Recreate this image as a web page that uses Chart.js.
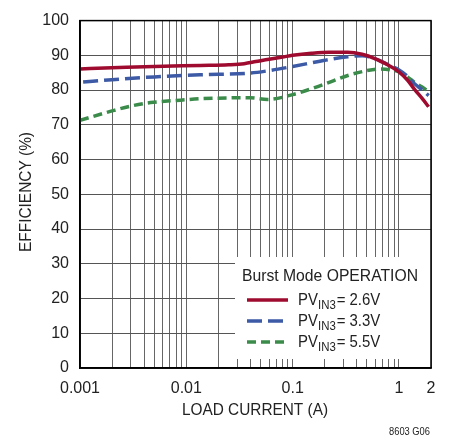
<!DOCTYPE html>
<html>
<head>
<meta charset="utf-8">
<script src="https://cdn.jsdelivr.net/npm/chart.js@4"></script>
<style>
  html, body { margin: 0; padding: 0; background: #fff; }
</style>
</head>
<body>
<canvas id="chart" width="449" height="438"></canvas>
<script>
// data (load current in A, efficiency in %)
const seriesLabels = ['2.6V', '3.3V', '5.5V'];
const legendTitle = 'Burst Mode OPERATION';
const xTitle = 'LOAD CURRENT (A)';
const yTitle = 'EFFICIENCY (%)';
const figCode = '8603 G06';

const current26 = [0.001, 0.002, 0.005, 0.0135, 0.025, 0.035, 0.045, 0.06, 0.08, 0.1, 0.15, 0.22, 0.33, 0.45, 0.6, 0.78, 0.9, 1, 1.2, 1.4, 1.65, 1.9];
const eff26 = [86.1, 86.4, 86.8, 87.1, 87.3, 87.6, 88.2, 88.9, 89.5, 90.0, 90.6, 90.9, 90.9, 90.3, 89.0, 87.3, 86.2, 85.2, 82.9, 80.2, 77.6, 75.2];

const current33 = [0.00107, 0.002, 0.005, 0.0135, 0.04, 0.06, 0.1, 0.195, 0.33, 0.45, 0.6, 0.78, 1, 1.2, 1.4, 1.65, 1.9];
const eff33 = [82.3, 83.0, 83.8, 84.4, 84.9, 85.6, 86.8, 88.5, 89.6, 89.9, 89.0, 87.4, 85.8, 84.0, 81.8, 80.1, 78.4];

const current55 = [0.001, 0.002, 0.003, 0.0046, 0.0088, 0.0135, 0.04, 0.058, 0.1, 0.195, 0.33, 0.5, 0.67, 0.85, 1, 1.2, 1.4, 1.65, 1.9];
const eff55 = [71.3, 74.0, 75.4, 76.4, 77.1, 77.5, 77.8, 77.3, 78.7, 81.6, 84.2, 85.6, 86.1, 85.8, 85.2, 83.8, 82.2, 80.9, 79.6];

// log axis grid positions and which ones get a label
const xGrid = [0.001, 0.002, 0.003, 0.004, 0.005, 0.006, 0.007, 0.008, 0.009,
               0.01, 0.02, 0.03, 0.04, 0.05, 0.06, 0.07, 0.08, 0.09,
               0.1, 0.2, 0.3, 0.4, 0.5, 0.6, 0.7, 0.8, 0.9, 1, 2];
const xLabels = [0.001, 0.01, 0.1, 1, 2];

const colors = ['#9e0b2f', '#3d5aa6', '#3b8b4b'];
const dashes = [[], [15, 6], [9, 5]];

const FONT = "'Liberation Sans', Arial, sans-serif";
Chart.defaults.font.family = FONT;
Chart.defaults.color = '#222';

const pts = (xs, ys) => xs.map((x, i) => ({ x: x, y: ys[i] }));

// the original uses a condensed face, squeeze text to the width it has there
function narrowText(ctx, text, x, y, width, align) {
    const s = width / ctx.measureText(text).width;
    ctx.save();
    ctx.translate(x, y);
    ctx.scale(s, 1);
    ctx.textAlign = align;
    ctx.fillText(text, 0, 0);
    ctx.restore();
}

const textBits = {
    id: 'textBits',
    afterDatasetsDraw(chart) {
        const ctx = chart.ctx;
        const a = chart.chartArea;
        ctx.save();

        // legend box, inside the plot at lower right
        const bx = 235, by = 257;
        ctx.fillStyle = '#fff';
        ctx.fillRect(bx, by, a.right - bx, 102);

        ctx.fillStyle = '#222';
        ctx.textBaseline = 'middle';
        ctx.font = '17px ' + FONT;
        narrowText(ctx, legendTitle, 242, 276, 176, 'left');

        chart.data.datasets.forEach((ds, i) => {
            const y = 300 + i * 21;
            ctx.strokeStyle = ds.borderColor;
            ctx.lineWidth = 3.5;
            ctx.setLineDash(ds.borderDash || []);
            ctx.beginPath();
            ctx.moveTo(247, y);
            ctx.lineTo(288, y);
            ctx.stroke();
            ctx.setLineDash([]);

            ctx.save();
            ctx.translate(298, y);
            ctx.scale(0.88, 1);
            let x = 0;
            ctx.font = '17px ' + FONT;
            ctx.fillText('PV', x, 0);
            x += ctx.measureText('PV').width;
            ctx.font = '13px ' + FONT;
            ctx.fillText('IN3', x, 5);
            x += ctx.measureText('IN3').width + 1;
            ctx.font = '17px ' + FONT;
            ctx.fillText('= ' + seriesLabels[i], x, 0);
            ctx.restore();
        });

        // frame
        ctx.strokeStyle = '#000';
        ctx.lineWidth = 1.5;
        ctx.strokeRect(a.left, a.top, a.right - a.left, a.bottom - a.top);

        // axis titles
        ctx.fillStyle = '#222';
        ctx.font = '17px ' + FONT;
        narrowText(ctx, xTitle, 255, 410, 146, 'center');
        ctx.save();
        ctx.translate(26, 192);
        ctx.rotate(-Math.PI / 2);
        narrowText(ctx, yTitle, 0, 0, 120, 'center');
        ctx.restore();

        ctx.font = '10px ' + FONT;
        narrowText(ctx, figCode, 430, 432, 41, 'right');
        ctx.restore();
    }
};

const ctx = document.getElementById('chart').getContext('2d');
const chart = new Chart(ctx, {
    type: 'line',
    data: {
        datasets: [
            { label: seriesLabels[0], data: pts(current26, eff26) },
            { label: seriesLabels[1], data: pts(current33, eff33) },
            { label: seriesLabels[2], data: pts(current55, eff55) }
        ].map((d, i) => Object.assign(d, {
            borderColor: colors[i],
            borderWidth: 3.5,
            borderDash: dashes[i],
            pointRadius: 0,
            fill: false,
            cubicInterpolationMode: 'monotone'
        }))
    },
    options: {
        responsive: false,
        animation: false,
        devicePixelRatio: 1,
        layout: { padding: { top: 17, right: 18, bottom: 18, left: 0 } },
        plugins: {
            legend: { display: false },
            tooltip: { enabled: false }
        },
        scales: {
            x: {
                type: 'logarithmic',
                min: 0.001,
                max: 2,
                afterBuildTicks: (scale) => { scale.ticks = xGrid.map(v => ({ value: v })); },
                afterFit: (scale) => { scale.height = 52; },
                ticks: {
                    autoSkip: false,
                    maxRotation: 0,
                    padding: 11,
                    font: { size: 16 },
                    callback: (v) => xLabels.includes(v) ? String(v) : ''
                },
                grid: { color: '#666', drawTicks: false },
                border: { color: '#000', width: 1.5 }
            },
            y: {
                min: 0,
                max: 100,
                afterFit: (scale) => { scale.width = 80; },
                ticks: { stepSize: 10, padding: 11, font: { size: 16 } },
                grid: { color: '#555', drawTicks: false },
                border: { color: '#000', width: 1.5 }
            }
        }
    },
    plugins: [textBits]
});
</script>
</body>
</html>
